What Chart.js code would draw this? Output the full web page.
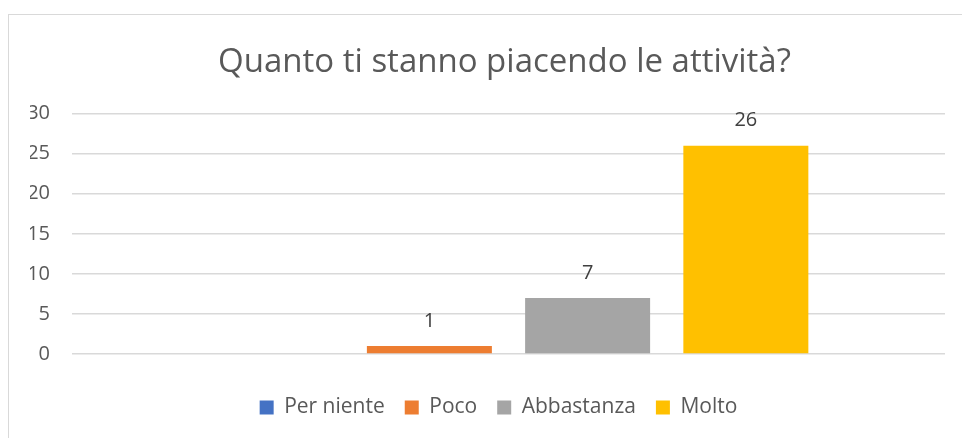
<!DOCTYPE html>
<html>
<head>
<meta charset="utf-8">
<script src="https://cdn.jsdelivr.net/npm/chart.js@4/dist/chart.umd.min.js"></script>
<style>
  html, body { margin: 0; padding: 0; background: #fff; overflow: hidden; }
  #frame {
    position: absolute; left: 8px; top: 14px;
    width: 1000px; height: 500px;
    border: 1px solid #d9d9d9; box-sizing: border-box;
  }
  #wrap { position: absolute; left: 0; top: 0; width: 962px; height: 438px; }
</style>
</head>
<body>
<div id="frame"></div>
<div id="wrap"><canvas id="myChart" width="962" height="438"></canvas></div>
<script>
(function() {
  'use strict';

  // chart data
  var titleText = "Quanto ti stanno piacendo le attività?";
  var categories = [""];
  var seriesNames = ["Per niente", "Poco", "Abbastanza", "Molto"];
  var seriesValues = [0, 1, 7, 26];
  var seriesColors = ["#4472c4", "#ed7d31", "#a5a5a5", "#ffc000"];
  var yTicks = [0, 5, 10, 15, 20, 25, 30];

  var FONT = "'Open Sans', sans-serif";

  // labels above bars (skip zero, like the original)
  var barLabels = {
    id: 'barLabels',
    afterDatasetsDraw: function(chart) {
      var ctx = chart.ctx;
      ctx.save();
      ctx.font = "20px " + FONT;
      ctx.fillStyle = "#404040";
      ctx.textAlign = "center";
      ctx.textBaseline = "bottom";
      chart.data.datasets.forEach(function(ds, i) {
        var meta = chart.getDatasetMeta(i);
        meta.data.forEach(function(bar, j) {
          var v = ds.data[j];
          if (!v) return;
          ctx.fillText(String(v), bar.x, bar.y - 15);
        });
      });
      ctx.restore();
    }
  };

  // excel centres title and legend on the whole chart frame, nudge them right
  var nudgeBoxes = {
    id: 'nudgeBoxes',
    afterLayout: function(chart) {
      if (chart.titleBlock) {
        chart.titleBlock.left += 17;
        chart.titleBlock.right += 17;
      }
      if (chart.legend) {
        chart.legend.left += 11;
        chart.legend.right += 11;
      }
    }
  };

  var datasets = seriesNames.map(function(name, i) {
    return {
      label: name,
      data: [seriesValues[i]],
      backgroundColor: seriesColors[i],
      borderWidth: 0,
      categoryPercentage: 0.725,
      barPercentage: 0.79
    };
  });

  window.onload = function() {
    var ctx = document.getElementById('myChart').getContext('2d');
    new Chart(ctx, {
      type: 'bar',
      data: { labels: categories, datasets: datasets },
      options: {
        responsive: false,
        animation: false,
        layout: { padding: { left: 30, right: 17, top: 43, bottom: 10 } },
        plugins: {
          title: {
            display: true,
            text: titleText,
            color: "#595959",
            font: { family: FONT, size: 33, weight: 'normal' },
            padding: { top: 0, bottom: 31 }
          },
          legend: {
            position: 'bottom',
            labels: {
              color: "#595959",
              font: { family: FONT, size: 21 },
              boxWidth: 14,
              boxHeight: 14,
              padding: 20
            }
          },
          tooltip: { enabled: false }
        },
        scales: {
          x: {
            ticks: { display: false },
            grid: { display: false },
            border: { display: false },
            afterFit: function(s) { s.height = 23; }
          },
          y: {
            min: 0,
            max: 30,
            afterBuildTicks: function(s) {
              s.ticks = yTicks.map(function(v) { return { value: v }; });
            },
            afterFit: function(s) { s.width = 42; },
            ticks: {
              color: "#595959",
              font: { family: FONT, size: 20 },
              padding: 22
            },
            grid: { color: "#d9d9d9", lineWidth: 1.5, drawTicks: false },
            border: { display: false }
          }
        }
      },
      plugins: [barLabels, nudgeBoxes]
    });
  };
})();
</script>
</body>
</html>
